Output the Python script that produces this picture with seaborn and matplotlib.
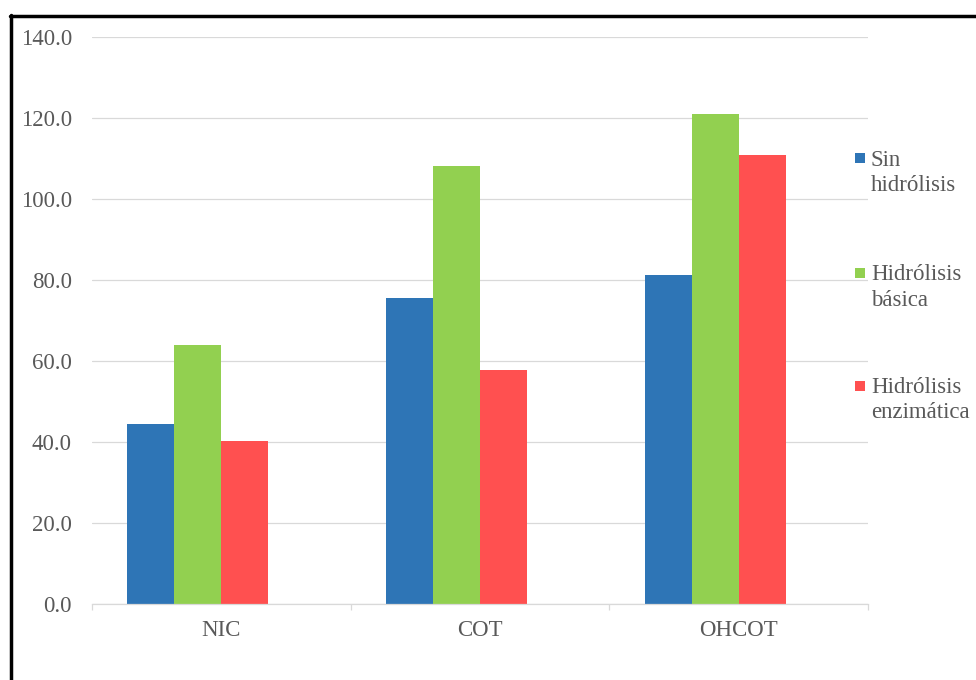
import matplotlib
matplotlib.use("Agg")
import matplotlib.pyplot as plt
from matplotlib.lines import Line2D
from matplotlib.patches import Rectangle
import seaborn as sns
import pandas as pd

categories = ["NIC", "COT", "OHCOT"]
series = ["Sin\nhidrólisis", "Hidrólisis\nbásica", "Hidrólisis\nenzimática"]
sin_hidrolisis = [44.5, 75.6, 81.2]
hidrolisis_basica = [64.0, 108.2, 121.1]
hidrolisis_enzimatica = [40.2, 57.9, 111.0]
colors = ["#2E75B6", "#92D050", "#FF5050"]
y_ticks = [0, 20, 40, 60, 80, 100, 120, 140]

rows = []
for s, vals in zip(series, [sin_hidrolisis, hidrolisis_basica, hidrolisis_enzimatica]):
    for c, v in zip(categories, vals):
        rows.append({"cat": c, "serie": s, "valor": v})
df = pd.DataFrame(rows)

sns.set_theme(style="white")
plt.rcParams["font.family"] = ["Liberation Serif", "DejaVu Serif"]

W, H = 976, 680
FS = 16.5
fig = plt.figure(figsize=(W / 100, H / 100), dpi=100)
ax = fig.add_axes([92 / W, (H - 604.3) / H, (868 - 92) / W, (604.3 - 37.3) / H])

# a fourth, empty slot in each group reproduces the reference's bar placement
hue_order = series + ["_vacío"]
sns.barplot(data=df, x="cat", y="valor", hue="serie", hue_order=hue_order,
            order=categories, palette=colors + ["#FFFFFF"], saturation=1,
            width=0.727, dodge=True, linewidth=0, legend=False, ax=ax,
            errorbar=None, zorder=3)

ax.set_xlim(-0.5, 2.5)
ax.set_ylim(0, 140)
ax.set_yticks(y_ticks)
ax.set_yticklabels([f"{v:.1f}" for v in y_ticks])
ax.set_xlabel("")
ax.set_ylabel("")
ax.grid(axis="y", color="#D9D9D9", linewidth=0.9, zorder=0)
ax.grid(axis="x", visible=False)
for side in ["top", "right", "left"]:
    ax.spines[side].set_visible(False)
ax.spines["bottom"].set_color("#D9D9D9")
ax.spines["bottom"].set_linewidth(0.9)
ax.spines["bottom"].set_zorder(4)
ax.set_xticks([-0.5, 0.5, 1.5, 2.5], minor=True)
ax.tick_params(axis="x", which="minor", length=4.5, width=0.9, color="#D9D9D9",
               direction="out", bottom=True)
ax.tick_params(axis="x", which="major", length=0, pad=11.5, labelsize=FS,
               labelcolor="#595959")
ax.tick_params(axis="y", length=0, pad=14.5, labelsize=FS, labelcolor="#595959")

# legend (square aligned with first text line, as in the reference)
first_base = [165, 279.5, 392.5]
pitch = 26
for s, col, yb in zip(series, colors, first_base):
    fig.add_artist(Rectangle((855 / W, (H - yb + 2) / H), 10 / W, 10 / H,
                             transform=fig.transFigure, color=col, lw=0))
    fig.text(871 / W, (H - yb - pitch) / H, s, fontsize=FS, color="#595959",
             va="baseline", ha="left", linespacing=1.27)

# black frame visible at top and left
fig.add_artist(Line2D([10 / W, 1.0], [(H - 15.5) / H] * 2, color="black",
                      lw=2.5, transform=fig.transFigure))
fig.add_artist(Line2D([11 / W] * 2, [0, (H - 14.5) / H], color="black",
                      lw=2.5, transform=fig.transFigure))

fig.savefig("out.png", dpi=100)
